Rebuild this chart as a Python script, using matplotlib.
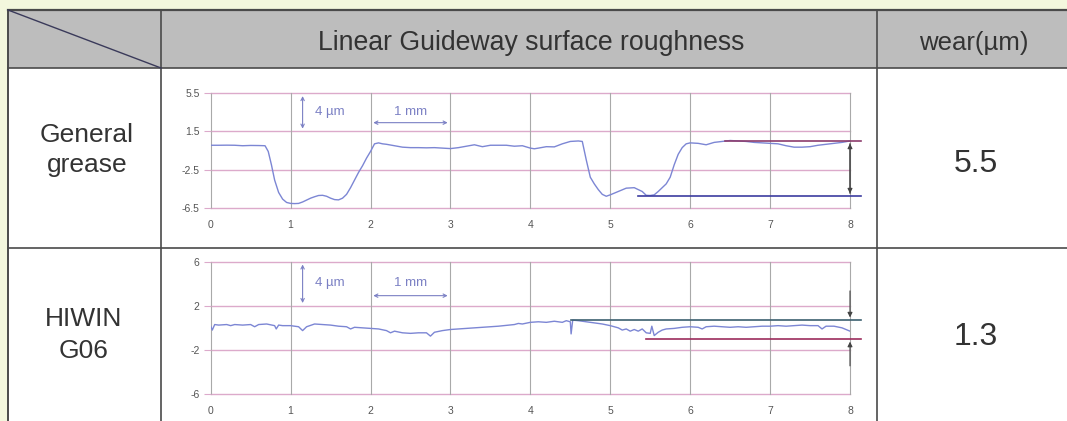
import matplotlib.pyplot as plt
from matplotlib.patches import Rectangle

plt.rcParams['font.family'] = ['Liberation Sans', 'DejaVu Sans']

# table text
header_mid = 'Linear Guideway surface roughness'
header_right = 'wear(µm)'
row_names = ['General\ngrease', 'HIWIN\nG06']
wear = ['5.5', '1.3']

# surface profile, general grease (x in mm, height in µm)
x1 = [0.0, 0.1, 0.2, 0.3, 0.4, 0.5, 0.6, 0.68, 0.72, 0.76, 0.8, 0.85, 0.9, 0.95,
      1.0, 1.05, 1.1, 1.15, 1.2, 1.25, 1.3, 1.35, 1.4, 1.45, 1.5, 1.55, 1.6, 1.65,
      1.7, 1.75, 1.8, 1.85, 1.9, 1.95, 2.0, 2.05, 2.1, 2.15, 2.2, 2.3, 2.4, 2.5,
      2.6, 2.7, 2.8, 2.9, 3.0, 3.1, 3.2, 3.3, 3.4, 3.5, 3.6, 3.7, 3.8, 3.9, 4.0,
      4.05, 4.1, 4.2, 4.3, 4.4, 4.5, 4.6, 4.65, 4.7, 4.75, 4.8, 4.85, 4.9, 4.95,
      5.0, 5.1, 5.2, 5.3, 5.4, 5.45, 5.5, 5.55, 5.6, 5.7, 5.75, 5.8, 5.85, 5.9,
      5.95, 6.0, 6.1, 6.2, 6.3, 6.4, 6.5, 6.6, 6.7, 6.8, 6.9, 7.0, 7.1, 7.2, 7.3,
      7.4, 7.5, 7.6, 7.7, 7.8, 7.9, 8.0]
y1 = [0.05, 0.05, 0.06, 0.05, 0.0, 0.03, 0.02, 0.0, -0.6, -2.0, -3.6, -4.9, -5.6, -5.95,
      -6.05, -6.07, -6.05, -5.9, -5.7, -5.5, -5.35, -5.22, -5.2, -5.3, -5.5, -5.65, -5.68, -5.5,
      -5.1, -4.4, -3.6, -2.8, -2.1, -1.3, -0.6, 0.2, 0.3, 0.2, 0.15, 0.0, -0.15, -0.2,
      -0.2, -0.22, -0.2, -0.25, -0.3, -0.2, -0.05, 0.1, -0.1, 0.05, 0.05, 0.05, -0.05, 0.0, -0.25,
      -0.32, -0.25, -0.1, -0.12, 0.2, 0.45, 0.5, 0.45, -1.5, -3.3, -4.0, -4.6, -5.1, -5.3,
      -5.15, -4.8, -4.45, -4.4, -4.8, -5.2, -5.22, -5.15, -4.8, -4.0, -3.3, -2.0, -0.9, -0.2,
      0.2, 0.3, 0.25, 0.1, 0.35, 0.45, 0.55, 0.5, 0.45, 0.35, 0.3, 0.25, 0.2, 0.0, -0.15,
      -0.15, -0.1, 0.05, 0.15, 0.25, 0.35, 0.5]

# surface profile, HIWIN G06
x2 = [0.0, 0.02, 0.05, 0.1, 0.2, 0.25, 0.3, 0.4, 0.5, 0.55, 0.6, 0.7, 0.8, 0.82, 0.85,
      0.9, 1.0, 1.1, 1.15, 1.2, 1.3, 1.4, 1.5, 1.6, 1.7, 1.75, 1.8, 1.9, 2.0, 2.1,
      2.2, 2.25, 2.3, 2.4, 2.5, 2.6, 2.7, 2.75, 2.8, 2.9, 3.0, 3.2, 3.4, 3.6, 3.8,
      3.85, 3.9, 4.0, 4.1, 4.2, 4.3, 4.4, 4.45, 4.5, 4.51, 4.53, 4.6, 4.7, 4.8, 4.9,
      5.0, 5.1, 5.15, 5.2, 5.25, 5.3, 5.35, 5.4, 5.45, 5.5, 5.52, 5.55, 5.6, 5.65, 5.7,
      5.8, 5.9, 6.0, 6.1, 6.15, 6.2, 6.3, 6.4, 6.5, 6.6, 6.7, 6.8, 6.9, 7.0, 7.1,
      7.2, 7.3, 7.4, 7.5, 7.6, 7.65, 7.7, 7.8, 7.9, 8.0]
y2 = [0.15, -0.2, 0.3, 0.25, 0.3, 0.2, 0.3, 0.25, 0.3, 0.1, 0.3, 0.35, 0.2, -0.1, 0.25,
      0.2, 0.2, 0.1, -0.25, 0.1, 0.35, 0.3, 0.25, 0.15, 0.1, -0.1, 0.05, 0.0, -0.05, -0.1,
      -0.25, -0.45, -0.3, -0.45, -0.5, -0.45, -0.45, -0.75, -0.4, -0.25, -0.15, -0.05, 0.05, 0.15, 0.3,
      0.4, 0.35, 0.5, 0.55, 0.5, 0.6, 0.5, 0.65, 0.55, -0.55, 0.7, 0.65, 0.55, 0.45, 0.35,
      0.2, 0.0, -0.2, -0.1, -0.3, -0.15, -0.3, -0.1, -0.45, -0.5, 0.15, -0.7, -0.4, -0.2, -0.1,
      -0.05, 0.05, 0.1, 0.05, -0.1, 0.1, 0.15, 0.1, 0.05, 0.1, 0.05, 0.1, 0.15, 0.15, 0.2,
      0.15, 0.2, 0.25, 0.2, 0.2, -0.1, 0.15, 0.15, 0.0, -0.3]

# wear reference levels: (start x, level)
ref1 = [(6.43, 0.52), (5.35, -5.3)]
ref2 = [(4.51, 0.69), (5.45, -1.0)]

yticks1 = [5.5, 1.5, -2.5, -6.5]
yticks2 = [6, 2, -2, -6]

W, H = 1067, 421
fig = plt.figure(figsize=(W / 100, H / 100), dpi=100)
fig.patch.set_facecolor('#f3f7dd')

# table background drawn in pixel coordinates
bg = fig.add_axes([0, 0, 1, 1])
bg.set_xlim(0, W)
bg.set_ylim(H, 0)
bg.axis('off')
bg.add_patch(Rectangle((8, 10), W - 8, H - 10, fc='white', ec='none'))
bg.add_patch(Rectangle((8, 10), W - 8, 58, fc='#bdbdbd', ec='none'))
edge = '#4a4a4a'
bg.plot([8, W], [10, 10], color=edge, lw=1.6)
bg.plot([8, W], [68, 68], color=edge, lw=1.2)
bg.plot([8, W], [248, 248], color=edge, lw=1.2)
bg.plot([8, 8], [10, H], color=edge, lw=1.4)
bg.plot([161, 161], [10, H], color=edge, lw=1.2)
bg.plot([877, 877], [10, H], color=edge, lw=1.2)
bg.plot([8, 161], [10, 68], color='#3a3a5a', lw=1.0)

tc = '#333333'
bg.text(531, 50, header_mid, ha='center', va='baseline', fontsize=19.2, color=tc)
bg.text(974, 50, header_right, ha='center', va='baseline', fontsize=18.5, color=tc)
bg.text(87, 150, row_names[0], ha='center', va='center', fontsize=19, color=tc, linespacing=1.3)
bg.text(84, 335, row_names[1], ha='center', va='center', fontsize=19, color=tc, linespacing=1.42)
bg.text(976, 164, wear[0], ha='center', va='center', fontsize=23, color=tc)
bg.text(976, 337, wear[1], ha='center', va='center', fontsize=23, color=tc)

line_c = '#7c86d4'
note_c = '#7b80c4'
hgrid_c = '#dcaacb'


def profile_axes(rect, x, y, yticks, refs, ref_colors, arrow_mode):
    ax = fig.add_axes(rect)
    ax.set_facecolor('none')
    lo, hi = min(yticks), max(yticks)
    ax.set_xlim(0, 8)
    ax.set_ylim(lo, hi)
    ax.set_xticks(range(9))
    ax.set_yticks(yticks)
    ax.set_yticklabels([str(t) for t in yticks])
    ax.tick_params(axis='y', length=5, color=hgrid_c, labelcolor='#555555', labelsize=7.5, pad=3)
    ax.tick_params(axis='x', length=0, labelcolor='#555555', labelsize=7.5, pad=9)
    for s in ax.spines.values():
        s.set_visible(False)
    for t in yticks:
        ax.axhline(t, color=hgrid_c, lw=1.0, clip_on=False, zorder=1)
    for t in range(9):
        ax.axvline(t, color='#a9a9a9', lw=0.8, clip_on=False, zorder=1)
    ax.plot(x, y, color=line_c, lw=1.0, zorder=3)

    # wear levels
    for (x0, lv), c in zip(refs, ref_colors):
        ax.plot([x0, 8.14], [lv, lv], color=c, lw=1.2, clip_on=False, zorder=4)
    top, bot = refs[0][1], refs[1][1]
    ap = dict(arrowstyle='-|>', color='#444444', lw=0.8, mutation_scale=7)
    if arrow_mode == 'inside':
        ax.annotate('', xy=(8, top), xytext=(8, bot), arrowprops=ap, annotation_clip=False)
        ax.annotate('', xy=(8, bot), xytext=(8, top), arrowprops=ap, annotation_clip=False)
    else:
        ax.annotate('', xy=(8, top), xytext=(8, 3.6), arrowprops=ap, annotation_clip=False)
        ax.annotate('', xy=(8, bot), xytext=(8, -3.7), arrowprops=ap, annotation_clip=False)

    # scale notes
    step = yticks[0] - yticks[1]
    sp = dict(arrowstyle='<->', color=note_c, lw=0.8, mutation_scale=6)
    ax.annotate('', xy=(1.15, hi), xytext=(1.15, hi - step), arrowprops=sp)
    ax.text(1.3, hi - step * 0.48, '4 µm', color=note_c, fontsize=9.5, va='center')
    ax.annotate('', xy=(2, hi - step * 0.77), xytext=(3, hi - step * 0.77), arrowprops=sp)
    ax.text(2.5, hi - step * 0.48, '1 mm', color=note_c, fontsize=9.5, va='center', ha='center')
    return ax


profile_axes([210.7 / W, 1 - 207.7 / H, 639.3 / W, 114.4 / H], x1, y1, yticks1,
             ref1, ['#8c3c6c', '#3c3ca0'], 'inside')
profile_axes([210.7 / W, 1 - 394 / H, 639.3 / W, 132.3 / H], x2, y2, yticks2,
             ref2, ['#3c6070', '#9c2c5c'], 'outside')

fig.savefig('out.png', dpi=100, facecolor=fig.get_facecolor())
